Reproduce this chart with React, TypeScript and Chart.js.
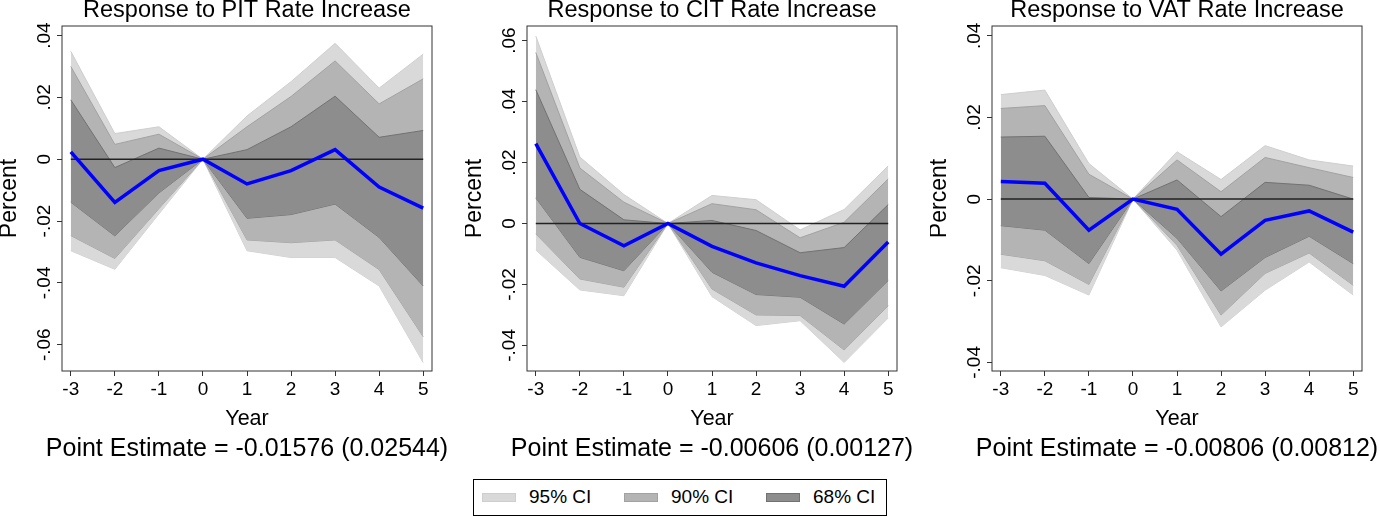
import { useEffect, useRef } from "react"
import { Chart, registerables } from "chart.js"

Chart.register(...registerables)

const FONT = '"Liberation Sans", Arial, Helvetica, sans-serif'

const years = [-3, -2, -1, 0, 1, 2, 3, 4, 5]

// PIT
const pitPoint = [0.0024, -0.014, -0.0037, 0, -0.008, -0.0037, 0.0031, -0.009, -0.0158]
const pitHi68 = [0.0192, -0.0027, 0.0036, 0, 0.0031, 0.0105, 0.0204, 0.0071, 0.0093]
const pitLo68 = [-0.0139, -0.0248, -0.0109, 0, -0.0191, -0.0179, -0.0145, -0.0253, -0.041]
const pitHi90 = [0.03, 0.0048, 0.0081, 0, 0.0105, 0.0203, 0.0318, 0.0179, 0.026]
const pitLo90 = [-0.0247, -0.0321, -0.016, 0, -0.0261, -0.027, -0.0261, -0.0357, -0.0574]
const pitHi95 = [0.0349, 0.0083, 0.0105, 0, 0.014, 0.0251, 0.0375, 0.023, 0.034]
const pitLo95 = [-0.0296, -0.0356, -0.0177, 0, -0.0296, -0.0318, -0.0318, -0.041, -0.0658]
const pitYTicks = [0.04, 0.02, 0, -0.02, -0.04, -0.06]

// CIT
const citPoint = [0.0262, 0, -0.0073, 0, -0.0075, -0.0129, -0.0171, -0.0206, -0.0061]
const citHi68 = [0.0439, 0.0112, 0.0012, 0, 0.001, -0.0023, -0.0096, -0.0079, 0.0062]
const citLo68 = [0.0084, -0.0111, -0.0155, 0, -0.016, -0.0233, -0.0242, -0.033, -0.0187]
const citHi90 = [0.0561, 0.0182, 0.007, 0, 0.0065, 0.0045, -0.0047, 0.0004, 0.0146]
const citLo90 = [-0.0034, -0.0182, -0.0209, 0, -0.0215, -0.03, -0.0302, -0.0415, -0.027]
const citHi95 = [0.0615, 0.0218, 0.0095, 0, 0.0092, 0.0078, -0.0021, 0.0046, 0.0189]
const citLo95 = [-0.0087, -0.0218, -0.0237, 0, -0.024, -0.0335, -0.0319, -0.0456, -0.031]
const citYTicks = [0.06, 0.04, 0.02, 0, -0.02, -0.04]

// VAT
const vatPoint = [0.0043, 0.0039, -0.0076, 0, -0.0025, -0.0135, -0.0052, -0.0029, -0.0081]
const vatHi68 = [0.0152, 0.0154, 0.0004, 0, 0.0047, -0.0043, 0.0041, 0.0034, 0]
const vatLo68 = [-0.0065, -0.0076, -0.0158, 0, -0.0096, -0.0225, -0.0143, -0.0091, -0.0158]
const vatHi90 = [0.0222, 0.0229, 0.0061, 0, 0.0096, 0.0018, 0.0102, 0.0077, 0.0053]
const vatLo90 = [-0.0135, -0.0151, -0.0209, 0, -0.0113, -0.0284, -0.0182, -0.0132, -0.0211]
const vatHi95 = [0.0256, 0.0267, 0.0087, 0, 0.0116, 0.0048, 0.0131, 0.0096, 0.0081]
const vatLo95 = [-0.0168, -0.0187, -0.0235, 0, -0.0125, -0.0313, -0.0223, -0.0154, -0.0235]
const vatYTicks = [0.04, 0.02, 0, -0.02, -0.04]

const legendLabels = ["95% CI", "90% CI", "68% CI"]
const bandFill = ["#d9d9d9", "#b4b4b4", "#8d8d8d"]
const bandEdge = ["#cecece", "#a2a2a2", "#727272"]

function pts(values: number[]) {
	return values.map((y, i) => ({ x: years[i], y }))
}

function stataLabel(v: number) {
	if (v === 0) return "0"
	return v.toFixed(2).replace("0.", ".")
}

type PanelProps = {
	left: number
	title: string
	note: string
	yMin: number
	yMax: number
	yTicks: number[]
	point: number[]
	bands: number[][] // hi68, lo68, hi90, lo90, hi95, lo95
}

function Panel(props: PanelProps) {
	const canvasRef = useRef<HTMLCanvasElement>(null)

	useEffect(() => {
		if (!canvasRef.current) return

		// stata-style frame, vertical y tick labels and the note under the axis
		const stataPlugin = {
			id: "stataFrame",
			afterDatasetsDraw(chart: Chart) {
				const { ctx, chartArea: a } = chart
				ctx.save()
				ctx.strokeStyle = "#333"
				ctx.lineWidth = 1
				ctx.strokeRect(a.left, a.top, a.right - a.left, a.bottom - a.top)
				ctx.restore()
			},
			afterDraw(chart: Chart) {
				const { ctx, chartArea: a } = chart
				const scale = chart.scales.y
				ctx.save()
				ctx.font = `19px ${FONT}`
				ctx.fillStyle = "#000"
				ctx.textAlign = "center"
				ctx.textBaseline = "alphabetic"
				for (const v of props.yTicks) {
					const y = scale.getPixelForValue(v)
					ctx.save()
					ctx.translate(scale.right - 12.5, y)
					ctx.rotate(-Math.PI / 2)
					ctx.fillText(stataLabel(v), 0, 0)
					ctx.restore()
				}
				ctx.font = `25px ${FONT}`
				ctx.fillText(props.note, (a.left + a.right) / 2, a.bottom + 84.5)
				ctx.restore()
			},
		}

		const [hi68, lo68, hi90, lo90, hi95, lo95] = props.bands
		const band = (data: number[], i: number, fill: boolean) => ({
			data: pts(data),
			borderColor: bandEdge[i],
			borderWidth: 1,
			backgroundColor: bandFill[i],
			fill: fill ? "+1" : false,
			pointRadius: 0,
			tension: 0,
		})

		const chart = new Chart(canvasRef.current, {
			type: "line",
			data: {
				datasets: [
					{
						data: pts(props.point),
						borderColor: "#0000ff",
						borderWidth: 3.5,
						pointRadius: 0,
						fill: false,
						tension: 0,
					},
					{
						data: pts(years.map(() => 0)),
						borderColor: "#222",
						borderWidth: 1.5,
						pointRadius: 0,
						fill: false,
					},
					band(hi68, 2, true),
					band(lo68, 2, false),
					band(hi90, 1, true),
					band(lo90, 1, false),
					band(hi95, 0, true),
					band(lo95, 0, false),
				],
			},
			options: {
				animation: false,
				responsive: true,
				maintainAspectRatio: false,
				layout: { padding: { left: 0, right: 18, top: 0, bottom: 40.5 } },
				plugins: {
					legend: { display: false },
					tooltip: { enabled: false },
					filler: { drawTime: "beforeDatasetDraw" },
					title: {
						display: true,
						text: props.title,
						fullSize: false,
						color: "#000",
						font: { family: FONT, size: 23.5, weight: "normal", lineHeight: 0.9 },
						padding: { top: 0, bottom: 4.85 },
					},
				},
				scales: {
					x: {
						type: "linear",
						min: -3.2,
						max: 5.2,
						afterBuildTicks: (s: any) => {
							s.ticks = years.map((value) => ({ value }))
						},
						afterFit: (s: any) => {
							s.height = 58.5
						},
						grid: { drawOnChartArea: false, drawTicks: true, tickLength: 5, color: "#333" },
						border: { display: false },
						ticks: {
							color: "#000",
							padding: 2.6,
							maxRotation: 0,
							autoSkip: false,
							font: { family: FONT, size: 19 },
							callback: (v: any) => String(v),
						},
						title: {
							display: true,
							text: "Year",
							color: "#000",
							font: { family: FONT, size: 21.5, lineHeight: 1 },
							padding: { top: 0, bottom: 0 },
						},
					},
					y: {
						type: "linear",
						min: props.yMin,
						max: props.yMax,
						afterBuildTicks: (s: any) => {
							s.ticks = props.yTicks.map((value) => ({ value }))
						},
						afterFit: (s: any) => {
							s.width = 62
						},
						grid: { drawOnChartArea: false, drawTicks: true, tickLength: 5, color: "#333" },
						border: { display: false },
						ticks: { display: false },
						title: {
							display: true,
							text: "Percent",
							color: "#000",
							font: { family: FONT, size: 23, lineHeight: 0.85 },
							padding: { top: 0, bottom: 0 },
						},
					},
				},
			},
			plugins: [stataPlugin],
		} as any)

		return () => {
			chart.destroy()
		}
	}, [])

	return (
		<div style={{ position: "absolute", left: props.left, top: 0, width: 450, height: 470 }}>
			<canvas ref={canvasRef} />
		</div>
	)
}

export default function App() {
	const legendX = [8, 150, 292]
	return (
		<div
			style={{
				position: "absolute",
				left: 0,
				top: 0,
				width: 1380,
				height: 517,
				background: "#fff",
				fontFamily: FONT,
				overflow: "hidden",
			}}
		>
			<Panel
				left={0}
				title="Response to PIT Rate Increase"
				note="Point Estimate = -0.01576 (0.02544)"
				yMin={-0.0685}
				yMax={0.0431}
				yTicks={pitYTicks}
				point={pitPoint}
				bands={[pitHi68, pitLo68, pitHi90, pitLo90, pitHi95, pitLo95]}
			/>
			<Panel
				left={465}
				title="Response to CIT Rate Increase"
				note="Point Estimate = -0.00606 (0.00127)"
				yMin={-0.0484}
				yMax={0.0648}
				yTicks={citYTicks}
				point={citPoint}
				bands={[citHi68, citLo68, citHi90, citLo90, citHi95, citLo95]}
			/>
			<Panel
				left={930}
				title="Response to VAT Rate Increase"
				note="Point Estimate = -0.00806 (0.00812)"
				yMin={-0.0421}
				yMax={0.0424}
				yTicks={vatYTicks}
				point={vatPoint}
				bands={[vatHi68, vatLo68, vatHi90, vatLo90, vatHi95, vatLo95]}
			/>
			<div
				style={{
					position: "absolute",
					left: 473,
					top: 479,
					width: 412,
					height: 35,
					border: "1px solid #000",
				}}
			>
				{legendLabels.map((label, i) => (
					<div key={label}>
						<div
							style={{
								position: "absolute",
								left: legendX[i],
								top: 13,
								width: 32,
								height: 7,
								background: bandFill[i],
								border: `1px solid ${bandEdge[i]}`,
							}}
						/>
						<div
							style={{
								position: "absolute",
								left: legendX[i] + 47,
								top: 6,
								fontSize: 19,
								lineHeight: "22px",
								color: "#000",
								whiteSpace: "nowrap",
							}}
						>
							{label}
						</div>
					</div>
				))}
			</div>
		</div>
	)
}
